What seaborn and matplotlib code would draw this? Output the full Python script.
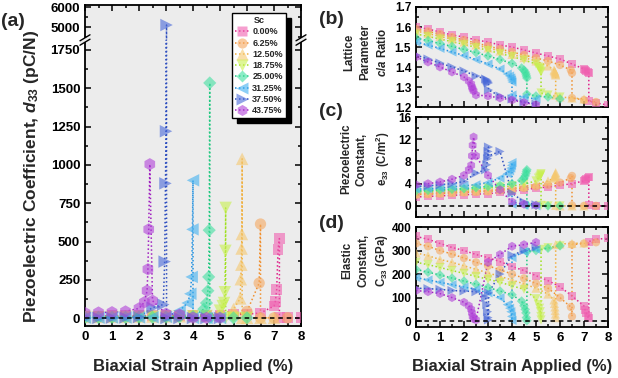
import matplotlib
matplotlib.use('Agg')
import matplotlib.pyplot as plt
from matplotlib.lines import Line2D
from matplotlib.patches import Polygon
from matplotlib.ticker import MultipleLocator
from matplotlib.colors import to_rgba
import pandas as pd
import seaborn as sns

# ---------------- data ----------------
sc_labels = ['0.00%', '6.25%', '12.50%', '18.75%', '25.00%', '31.25%', '37.50%', '43.75%']

strain_00 = [0, 0.5, 1, 1.5, 2, 2.5, 3, 3.5, 4, 4.5, 5, 5.5, 6, 6.5, 7.0, 7.05, 7.1, 7.15, 7.2, 7.2, 7.5, 8.0]
d33_00 = [15, 15, 16, 16, 17, 18, 18, 19, 20, 21, 22, 24, 27, 35, 80, 110, 190, 450, 520, 3, 3, 3]
ca_00 = [1.600, 1.590, 1.575, 1.560, 1.550, 1.535, 1.525, 1.510, 1.500, 1.485, 1.470, 1.455, 1.440, 1.415, 1.390, 1.385, 1.380, 1.375, 1.370, 1.230, 1.220, 1.210]
e33_00 = [1.6, 1.7, 1.8, 1.9, 2.0, 2.1, 2.2, 2.4, 2.6, 2.9, 3.2, 3.4, 3.7, 4.0, 4.5, 4.7, 4.9, 5.1, 5.2, 0.1, 0.0, 0.0]
c33_00 = [360, 348, 330, 313, 300, 283, 270, 253, 232, 215, 193, 172, 146, 107, 64, 47, 34, 20, 12, 338, 348, 352]

strain_06 = [0, 0.5, 1, 1.5, 2, 2.5, 3, 3.5, 4, 4.5, 5, 5.5, 6, 6.45, 6.5, 6.5, 7.0, 7.5]
d33_06 = [12, 12, 13, 13, 14, 14, 15, 16, 17, 18, 19, 21, 45, 230, 615, 3, 3, 3]
ca_06 = [1.590, 1.578, 1.565, 1.550, 1.535, 1.520, 1.505, 1.490, 1.475, 1.460, 1.445, 1.430, 1.410, 1.385, 1.370, 1.245, 1.235, 1.225]
e33_06 = [2.0, 2.1, 2.2, 2.3, 2.4, 2.5, 2.6, 2.8, 3.0, 3.2, 3.5, 3.8, 4.2, 5.0, 5.4, 0.1, 0.0, 0.0]
c33_06 = [330, 318, 300, 285, 268, 250, 235, 218, 200, 182, 160, 140, 100, 60, 20, 325, 330, 335]

strain_12 = [0, 0.5, 1, 1.5, 2, 2.5, 3, 3.5, 4, 4.5, 5, 5.5, 5.75, 5.77, 5.79, 5.8, 5.81, 5.82, 5.82, 6.0, 6.5, 7.0]
d33_12 = [10, 10, 11, 11, 12, 12, 13, 14, 15, 16, 22, 60, 130, 255, 350, 455, 550, 1040, 3, 3, 3, 3]
ca_12 = [1.580, 1.567, 1.553, 1.540, 1.525, 1.510, 1.495, 1.480, 1.463, 1.447, 1.430, 1.405, 1.385, 1.380, 1.375, 1.370, 1.365, 1.360, 1.260, 1.250, 1.245, 1.240]
e33_12 = [2.2, 2.3, 2.4, 2.5, 2.6, 2.7, 2.8, 3.0, 3.2, 3.5, 3.9, 4.5, 5.0, 5.2, 5.4, 5.6, 5.8, 6.0, 0.1, 0.0, 0.0, 0.0]
c33_12 = [290, 278, 262, 250, 235, 220, 205, 190, 175, 158, 140, 115, 90, 75, 60, 45, 30, 15, 325, 328, 330, 332]

strain_18 = [0, 0.5, 1, 1.5, 2, 2.5, 3, 3.5, 4, 4.5, 5.0, 5.1, 5.15, 5.18, 5.2, 5.21, 5.21, 5.5, 6.0]
d33_18 = [8, 8, 9, 9, 10, 10, 11, 12, 13, 15, 50, 80, 100, 170, 440, 720, 3, 3, 3]
ca_18 = [1.565, 1.553, 1.540, 1.527, 1.513, 1.498, 1.483, 1.468, 1.452, 1.435, 1.415, 1.400, 1.395, 1.390, 1.380, 1.375, 1.270, 1.260, 1.250]
e33_18 = [2.5, 2.6, 2.7, 2.8, 2.9, 3.0, 3.2, 3.4, 3.6, 3.9, 4.5, 5.0, 5.2, 5.4, 5.6, 5.8, 0.1, 0.0, 0.0]
c33_18 = [250, 240, 228, 215, 203, 190, 178, 165, 150, 135, 95, 70, 55, 40, 20, 5, 305, 312, 320]

strain_25 = [0, 0.5, 1, 1.5, 2, 2.5, 3, 3.5, 4, 4.4, 4.5, 4.55, 4.58, 4.6, 4.62, 4.62, 5.0, 5.5, 6.0]
d33_25 = [5, 5, 6, 6, 7, 7, 8, 9, 12, 60, 100, 180, 270, 575, 1535, 3, 3, 3, 3]
ca_25 = [1.545, 1.532, 1.518, 1.503, 1.488, 1.472, 1.455, 1.437, 1.418, 1.395, 1.385, 1.375, 1.365, 1.355, 1.345, 1.265, 1.255, 1.250, 1.240]
e33_25 = [2.7, 2.8, 2.9, 3.0, 3.1, 3.3, 3.5, 3.7, 4.0, 4.6, 5.0, 5.4, 5.8, 6.2, 6.5, 0.2, 0.1, 0.0, 0.0]
c33_25 = [220, 208, 196, 183, 170, 157, 143, 128, 112, 85, 65, 50, 35, 15, 2, 295, 300, 310, 320]

strain_31 = [0, 0.5, 1, 1.5, 2, 2.5, 3, 3.5, 3.8, 3.9, 3.95, 3.98, 4.0, 4.0, 4.5, 5.0]
d33_31 = [4, 4, 5, 5, 6, 7, 9, 50, 100, 160, 270, 580, 900, 2, 2, 2]
ca_31 = [1.525, 1.510, 1.493, 1.475, 1.457, 1.437, 1.415, 1.390, 1.365, 1.355, 1.345, 1.335, 1.325, 1.260, 1.250, 1.240]
e33_31 = [3.0, 3.1, 3.2, 3.4, 3.6, 3.8, 4.2, 5.0, 5.8, 6.3, 6.8, 7.3, 7.8, 0.3, 0.1, 0.0]
c33_31 = [185, 175, 165, 155, 145, 135, 120, 100, 70, 55, 40, 20, 3, 270, 295, 305]

strain_37 = [0, 0.5, 1, 1.5, 2, 2.5, 2.9, 2.95, 2.98, 3.0, 3.02, 3.02, 3.5, 4.0, 4.5, 5.0]
d33_37 = [3, 3, 4, 5, 8, 70, 90, 370, 880, 1220, 5100, 2, 2, 2, 2, 2]
ca_37 = [1.460, 1.440, 1.420, 1.400, 1.380, 1.355, 1.340, 1.335, 1.330, 1.325, 1.320, 1.285, 1.255, 1.240, 1.225, 1.215]
e33_37 = [3.5, 3.6, 3.8, 4.0, 4.4, 5.9, 6.5, 7.4, 8.5, 9.8, 10.6, 9.0, 9.8, 2.3, 0.7, 0.2]
c33_37 = [140, 138, 135, 130, 128, 125, 100, 70, 40, 15, 5, 120, 200, 280, 300, 315]

strain_43 = [0, 0.5, 1, 1.5, 2.0, 2.2, 2.3, 2.33, 2.36, 2.4, 2.5, 3.0, 3.5, 4.0, 4.5, 5.0]
d33_43 = [35, 38, 40, 45, 65, 105, 180, 320, 580, 1005, 115, 30, 25, 5, 3, 3]
ca_43 = [1.450, 1.425, 1.400, 1.375, 1.350, 1.330, 1.315, 1.300, 1.290, 1.280, 1.260, 1.255, 1.245, 1.235, 1.222, 1.212]
e33_43 = [3.8, 4.0, 4.3, 4.8, 5.5, 6.5, 7.3, 9.0, 10.9, 12.4, 9.0, 5.5, 2.9, 0.7, 0.3, 0.1]
c33_43 = [130, 125, 117, 100, 80, 65, 50, 35, 20, 10, 5, 250, 283, 318, 325, 335]

strains = [strain_00, strain_06, strain_12, strain_18, strain_25, strain_31, strain_37, strain_43]
d33_all = [d33_00, d33_06, d33_12, d33_18, d33_25, d33_31, d33_37, d33_43]
ca_all = [ca_00, ca_06, ca_12, ca_18, ca_25, ca_31, ca_37, ca_43]
e33_all = [e33_00, e33_06, e33_12, e33_18, e33_25, e33_31, e33_37, e33_43]
c33_all = [c33_00, c33_06, c33_12, c33_18, c33_25, c33_31, c33_37, c33_43]

# ---------------- style ----------------
face_colors = ['#f060b0', '#f5a860', '#f5c870', '#c8f050', '#40e0a0', '#40b0f0', '#4868d8', '#b040d8']
line_colors = ['#e0208a', '#f09030', '#f0b040', '#a0e020', '#20c880', '#2090e0', '#3050c0', '#a020c0']
markers = ['s', 'o', '^', 'v', 'D', '<', '>', 'h']
msc = [1.0, 1.1, 1.35, 1.35, 0.75, 1.35, 1.35, 1.3]

sns.set_style('ticks')
plt.rcParams['font.family'] = ['Liberation Sans', 'DejaVu Sans']
plt.rcParams['font.weight'] = 'bold'
plt.rcParams['axes.labelweight'] = 'bold'
plt.rcParams['mathtext.fontset'] = 'custom'
plt.rcParams['mathtext.rm'] = 'Liberation Sans:bold'
plt.rcParams['mathtext.it'] = 'Liberation Sans:italic:bold'
plt.rcParams['mathtext.bf'] = 'Liberation Sans:bold'

W, H = 618, 378
fig = plt.figure(figsize=(W / 100, H / 100), dpi=100)
ax_top = fig.add_axes([85 / W, 1 - 40 / H, 216 / W, 35 / H])
ax_bot = fig.add_axes([85 / W, 1 - 326 / H, 216 / W, 286 / H])
ax_b = fig.add_axes([416 / W, 1 - 107 / H, 192 / W, 100 / H])
ax_c = fig.add_axes([416 / W, 1 - 217 / H, 192 / W, 100 / H])
ax_d = fig.add_axes([416 / W, 1 - 327 / H, 192 / W, 100 / H])

BG = '#ececec'


def draw(ax, values, ms):
    for i in range(8):
        df = pd.DataFrame({'x': strains[i], 'y': values[i]})
        sns.lineplot(data=df, x='x', y='y', ax=ax, estimator=None, sort=False,
                     color=line_colors[i], lw=1.1, linestyle=(0, (1, 1.6)),
                     zorder=2 + i * 0.01, legend=False)
        sns.scatterplot(data=df, x='x', y='y', ax=ax, marker=markers[i],
                        s=ms * msc[i], color=face_colors[i], alpha=0.6,
                        edgecolor='none', linewidth=0, zorder=3 + i * 0.01, legend=False)
    ax.set_xlabel('')
    ax.set_ylabel('')


def style(ax, ymaj, ymin, fs, xlabels=True):
    ax.set_facecolor(BG)
    for s in ax.spines.values():
        s.set_linewidth(1.3)
        s.set_color('black')
    ax.set_xlim(0, 8)
    ax.xaxis.set_major_locator(MultipleLocator(1))
    ax.xaxis.set_minor_locator(MultipleLocator(0.5))
    ax.yaxis.set_major_locator(MultipleLocator(ymaj))
    ax.yaxis.set_minor_locator(MultipleLocator(ymin))
    ax.tick_params(which='both', direction='in', top=True, right=True, width=1.1,
                   labelsize=fs, colors='black')
    ax.tick_params(which='major', length=4.5)
    ax.tick_params(which='minor', length=2.5)
    if not xlabels:
        ax.tick_params(labelbottom=False)
    for lab in ax.get_xticklabels() + ax.get_yticklabels():
        lab.set_fontweight('bold')


# panel (a)
for ax in (ax_top, ax_bot):
    draw(ax, d33_all, 60)
ax_top.set_ylim(4350, 6100)
ax_bot.set_ylim(-50, 1815)
style(ax_top, 1000, 500, 9.5, xlabels=False)
style(ax_bot, 250, 125, 9.5)
ax_top.spines['bottom'].set_visible(False)
ax_bot.spines['top'].set_visible(False)
ax_top.tick_params(which='both', bottom=False)
ax_bot.tick_params(which='both', top=False)
ax_bot.axhline(0, color='black', lw=1.1, ls=(0, (3, 2.5)), zorder=5)

# break marks
for xa in (0.0, 1.0):
    dx, dy = 5 / 216, 3 / 286
    g = 2.2 / 286
    poly = Polygon([(xa - dx, 1 - dy - g), (xa + dx, 1 + dy - g), (xa + dx, 1 + dy + g),
                    (xa - dx, 1 - dy + g)], closed=True, transform=ax_bot.transAxes,
                   facecolor=BG, edgecolor='none', clip_on=False, zorder=10)
    ax_bot.add_patch(poly)
    for off in (-g, g):
        ax_bot.plot([xa - dx, xa + dx], [1 - dy + off, 1 + dy + off], color='black',
                    lw=1.0, transform=ax_bot.transAxes, clip_on=False, zorder=11)

# panel (b)
draw(ax_b, ca_all, 32)
ax_b.set_ylim(1.2, 1.7)
style(ax_b, 0.1, 0.05, 8.5, xlabels=False)

# panel (c)
draw(ax_c, e33_all, 32)
ax_c.set_ylim(-2, 16)
style(ax_c, 4, 2, 8.5, xlabels=False)
ax_c.axhline(0, color='black', lw=1.1, ls=(0, (3, 2.5)), zorder=5)

# panel (d)
draw(ax_d, c33_all, 32)
ax_d.set_ylim(-25, 400)
style(ax_d, 100, 50, 8.5)
ax_d.tick_params(axis='x', labelsize=9.5)
ax_d.axhline(0, color='black', lw=1.1, ls=(0, (3, 2.5)), zorder=5)

# ---------------- texts ----------------
fig.text(32 / W, 1 - 176 / H, 'Piezoelectric Coefficient, $d_{33}$ (pC/N)', rotation=90,
         ha='center', va='center', fontsize=12.5, fontweight='bold')
fig.text(193 / W, 1 - 366 / H, 'Biaxial Strain Applied (%)', ha='center', va='center',
         fontsize=12, fontweight='bold')
fig.text(512 / W, 1 - 366 / H, 'Biaxial Strain Applied (%)', ha='center', va='center',
         fontsize=12, fontweight='bold')

fig.text(1 / W, 1 - 22 / H, '(a)', ha='left', va='center', fontsize=14, fontweight='bold')
fig.text(319 / W, 1 - 20 / H, '(b)', ha='left', va='center', fontsize=14, fontweight='bold')
fig.text(319 / W, 1 - 112 / H, '(c)', ha='left', va='center', fontsize=14, fontweight='bold')
fig.text(319 / W, 1 - 224 / H, '(d)', ha='left', va='center', fontsize=14, fontweight='bold')

rkw = dict(rotation=90, ha='center', va='center', multialignment='center', fontsize=8.3,
           fontweight='bold', linespacing=1.45)
fig.text(366 / W, 1 - 52 / H, 'Lattice\nParameter\n$c/a$ Ratio', **rkw)
fig.text(366 / W, 1 - 159 / H, 'Piezoelectric\nConstant,\ne$_{33}$ (C/m$^{2}$)', **rkw)
fig.text(366 / W, 1 - 260 / H, 'Elastic\nConstant,\nC$_{33}$ (GPa)', **rkw)

# ---------------- legend ----------------
handles = []
for i in range(8):
    handles.append(Line2D([0], [0], color=line_colors[i], ls=(0, (1, 1.6)), lw=1.1,
                          marker=markers[i], markersize=7 * (msc[i] ** 0.5),
                          markerfacecolor=to_rgba(face_colors[i], 0.6),
                          markeredgecolor='none'))
leg = fig.legend(handles, sc_labels, title='Sc', loc='upper left',
                 bbox_to_anchor=(232 / W, 1 - 13 / H), bbox_transform=fig.transFigure,
                 frameon=True, fancybox=False, edgecolor='black', framealpha=1,
                 facecolor='white', fontsize=6.5, title_fontsize=6.5, handlelength=1.6,
                 handletextpad=0.3, labelspacing=0.25, borderpad=0.35, borderaxespad=0,
                 shadow={'ox': 3.5, 'oy': -3.5, 'color': 'black', 'alpha': 1.0})
leg.get_frame().set_linewidth(1.0)
leg.get_title().set_fontweight('bold')
for t in leg.get_texts():
    t.set_fontweight('bold')

fig.savefig('out.png', dpi=100)
